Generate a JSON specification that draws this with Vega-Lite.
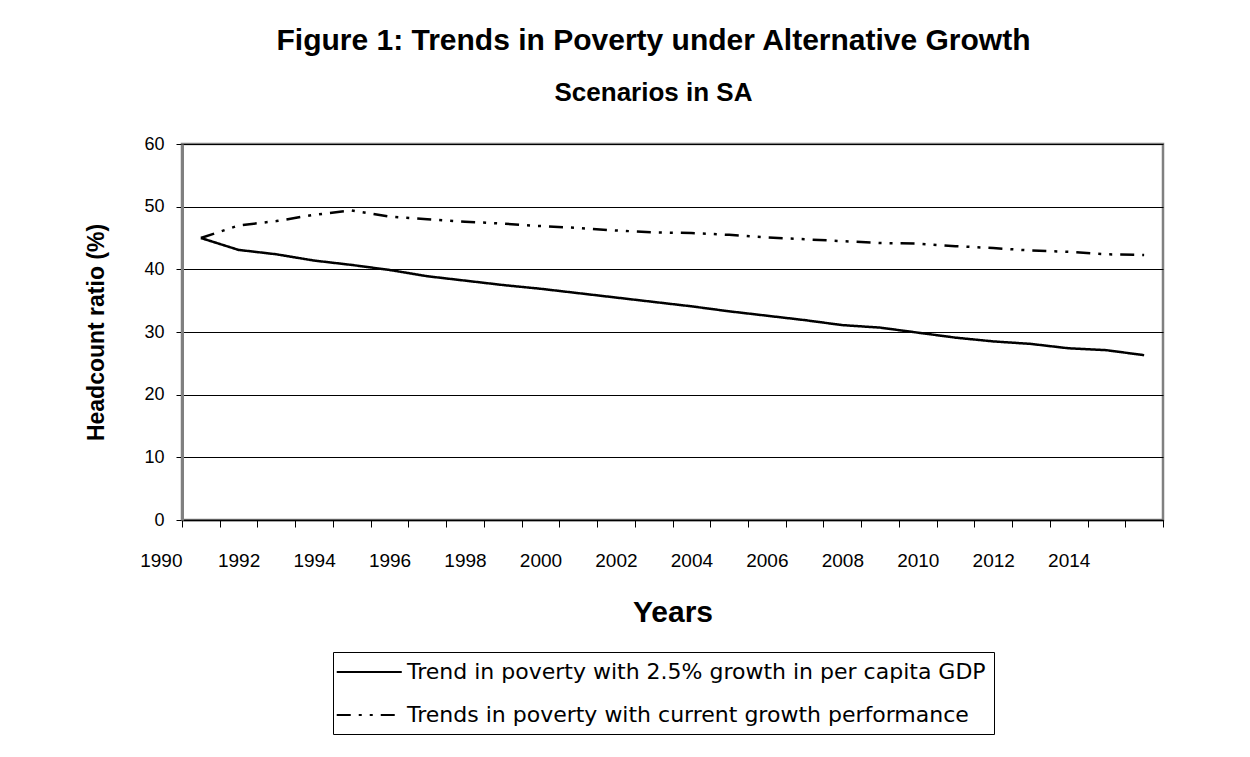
{
  "$schema": "https://vega.github.io/schema/vega-lite/v6.json",
  "autosize": "none",
  "width": 981,
  "height": 376,
  "padding": {"left": 182, "top": 144, "right": 87, "bottom": 237},
  "background": "white",
  "title": {
    "text": "Figure 1: Trends in Poverty under Alternative Growth",
    "subtitle": "Scenarios in SA",
    "font": "Liberation Sans",
    "fontSize": 30,
    "fontWeight": "bold",
    "color": "black",
    "subtitleFont": "Liberation Sans",
    "subtitleFontSize": 26,
    "subtitleFontWeight": "bold",
    "subtitleColor": "black",
    "subtitlePadding": 24,
    "offset": 29,
    "anchor": "middle",
    "dx": -19
  },
  "data": {
    "values": [
      {"year": 1991, "value": 45.0, "series": "Trend in poverty with 2.5% growth in per capita GDP"},
      {"year": 1992, "value": 43.1, "series": "Trend in poverty with 2.5% growth in per capita GDP"},
      {"year": 1993, "value": 42.4, "series": "Trend in poverty with 2.5% growth in per capita GDP"},
      {"year": 1994, "value": 41.4, "series": "Trend in poverty with 2.5% growth in per capita GDP"},
      {"year": 1995, "value": 40.7, "series": "Trend in poverty with 2.5% growth in per capita GDP"},
      {"year": 1996, "value": 39.9, "series": "Trend in poverty with 2.5% growth in per capita GDP"},
      {"year": 1997, "value": 38.9, "series": "Trend in poverty with 2.5% growth in per capita GDP"},
      {"year": 1998, "value": 38.2, "series": "Trend in poverty with 2.5% growth in per capita GDP"},
      {"year": 1999, "value": 37.5, "series": "Trend in poverty with 2.5% growth in per capita GDP"},
      {"year": 2000, "value": 36.9, "series": "Trend in poverty with 2.5% growth in per capita GDP"},
      {"year": 2001, "value": 36.2, "series": "Trend in poverty with 2.5% growth in per capita GDP"},
      {"year": 2002, "value": 35.5, "series": "Trend in poverty with 2.5% growth in per capita GDP"},
      {"year": 2003, "value": 34.8, "series": "Trend in poverty with 2.5% growth in per capita GDP"},
      {"year": 2004, "value": 34.1, "series": "Trend in poverty with 2.5% growth in per capita GDP"},
      {"year": 2005, "value": 33.3, "series": "Trend in poverty with 2.5% growth in per capita GDP"},
      {"year": 2006, "value": 32.6, "series": "Trend in poverty with 2.5% growth in per capita GDP"},
      {"year": 2007, "value": 31.9, "series": "Trend in poverty with 2.5% growth in per capita GDP"},
      {"year": 2008, "value": 31.1, "series": "Trend in poverty with 2.5% growth in per capita GDP"},
      {"year": 2009, "value": 30.7, "series": "Trend in poverty with 2.5% growth in per capita GDP"},
      {"year": 2010, "value": 29.9, "series": "Trend in poverty with 2.5% growth in per capita GDP"},
      {"year": 2011, "value": 29.1, "series": "Trend in poverty with 2.5% growth in per capita GDP"},
      {"year": 2012, "value": 28.5, "series": "Trend in poverty with 2.5% growth in per capita GDP"},
      {"year": 2013, "value": 28.1, "series": "Trend in poverty with 2.5% growth in per capita GDP"},
      {"year": 2014, "value": 27.4, "series": "Trend in poverty with 2.5% growth in per capita GDP"},
      {"year": 2015, "value": 27.1, "series": "Trend in poverty with 2.5% growth in per capita GDP"},
      {"year": 2016, "value": 26.3, "series": "Trend in poverty with 2.5% growth in per capita GDP"},
      {"year": 1991, "value": 45.0, "series": "Trends in poverty with current growth performance"},
      {"year": 1992, "value": 47.0, "series": "Trends in poverty with current growth performance"},
      {"year": 1993, "value": 47.7, "series": "Trends in poverty with current growth performance"},
      {"year": 1994, "value": 48.7, "series": "Trends in poverty with current growth performance"},
      {"year": 1995, "value": 49.4, "series": "Trends in poverty with current growth performance"},
      {"year": 1996, "value": 48.4, "series": "Trends in poverty with current growth performance"},
      {"year": 1997, "value": 48.0, "series": "Trends in poverty with current growth performance"},
      {"year": 1998, "value": 47.6, "series": "Trends in poverty with current growth performance"},
      {"year": 1999, "value": 47.3, "series": "Trends in poverty with current growth performance"},
      {"year": 2000, "value": 46.9, "series": "Trends in poverty with current growth performance"},
      {"year": 2001, "value": 46.6, "series": "Trends in poverty with current growth performance"},
      {"year": 2002, "value": 46.2, "series": "Trends in poverty with current growth performance"},
      {"year": 2003, "value": 45.9, "series": "Trends in poverty with current growth performance"},
      {"year": 2004, "value": 45.8, "series": "Trends in poverty with current growth performance"},
      {"year": 2005, "value": 45.5, "series": "Trends in poverty with current growth performance"},
      {"year": 2006, "value": 45.1, "series": "Trends in poverty with current growth performance"},
      {"year": 2007, "value": 44.8, "series": "Trends in poverty with current growth performance"},
      {"year": 2008, "value": 44.5, "series": "Trends in poverty with current growth performance"},
      {"year": 2009, "value": 44.2, "series": "Trends in poverty with current growth performance"},
      {"year": 2010, "value": 44.1, "series": "Trends in poverty with current growth performance"},
      {"year": 2011, "value": 43.7, "series": "Trends in poverty with current growth performance"},
      {"year": 2012, "value": 43.4, "series": "Trends in poverty with current growth performance"},
      {"year": 2013, "value": 43.0, "series": "Trends in poverty with current growth performance"},
      {"year": 2014, "value": 42.8, "series": "Trends in poverty with current growth performance"},
      {"year": 2015, "value": 42.4, "series": "Trends in poverty with current growth performance"},
      {"year": 2016, "value": 42.3, "series": "Trends in poverty with current growth performance"}
    ]
  },
  "mark": {"type": "line", "color": "black", "strokeWidth": 2.5},
  "encoding": {
    "x": {
      "field": "year",
      "type": "quantitative",
      "scale": {"domain": [1990.5, 2016.5], "nice": false, "zero": false},
      "axis": {
        "title": "Years",
        "titleFont": "Liberation Sans",
        "titleFontSize": 30,
        "titleFontWeight": "bold",
        "titleColor": "black",
        "titlePadding": 27,
        "values": [1990.5, 1991.5, 1992.5, 1993.5, 1994.5, 1995.5, 1996.5, 1997.5, 1998.5, 1999.5, 2000.5, 2001.5, 2002.5, 2003.5, 2004.5, 2005.5, 2006.5, 2007.5, 2008.5, 2009.5, 2010.5, 2011.5, 2012.5, 2013.5, 2014.5, 2015.5, 2016.5],
        "labelExpr": "datum.value == 1990.5 ? '1990' : ((datum.value - 1991.5) % 2 == 0 && datum.value <= 2013.5 ? '' + (datum.value + 0.5) : '')",
        "labelAlign": {"condition": {"test": "datum.value == 1990.5", "value": "right"}, "value": "center"},
        "labelOffset": {"condition": {"test": "datum.value == 1990.5", "value": 0}, "value": 18.9},
        "labelOverlap": false,
        "labelBound": false,
        "labelFlush": false,
        "labelFont": "Liberation Sans",
        "labelFontSize": 19,
        "labelColor": "black",
        "labelPadding": 24,
        "tickSize": 7,
        "tickColor": "black",
        "tickWidth": 1,
        "domainColor": "black",
        "domainWidth": 1.5,
        "grid": false
      }
    },
    "y": {
      "field": "value",
      "type": "quantitative",
      "scale": {"domain": [0, 60], "nice": false},
      "axis": {
        "title": "Headcount ratio (%)",
        "titleFont": "Liberation Sans",
        "titleFontSize": 23,
        "titleFontWeight": "bold",
        "titleColor": "black",
        "titlePadding": 35,
        "values": [0, 10, 20, 30, 40, 50, 60],
        "labelFont": "Liberation Sans",
        "labelFontSize": 18,
        "labelColor": "black",
        "labelPadding": 12,
        "tickSize": 6,
        "tickColor": "black",
        "domainColor": "#808080",
        "domainWidth": 3,
        "grid": true,
        "gridColor": "black",
        "gridWidth": 1,
        "gridOpacity": 1
      }
    },
    "strokeDash": {
      "field": "series",
      "type": "nominal",
      "scale": {
        "domain": ["Trend in poverty with 2.5% growth in per capita GDP", "Trends in poverty with current growth performance"],
        "range": [[1, 0], [14, 8, 3, 8, 3, 8]]
      },
      "legend": {
        "title": null,
        "orient": "none",
        "legendX": 151,
        "legendY": 508,
        "strokeColor": "black",
        "fillColor": "white",
        "padding": 8,
        "symbolType": "M-1.5,0H4.5",
        "symbolSize": 470,
        "symbolStrokeWidth": 2,
        "symbolStrokeColor": "black",
        "symbolFillColor": "transparent",
        "labelFont": "DejaVu Sans",
        "labelFontSize": 22,
        "labelColor": "black",
        "labelLimit": 1000,
        "labelOffset": 42,
        "rowPadding": 20
      }
    }
  },
  "config": {
    "view": {"stroke": "#808080", "strokeWidth": 2.5}
  }
}
